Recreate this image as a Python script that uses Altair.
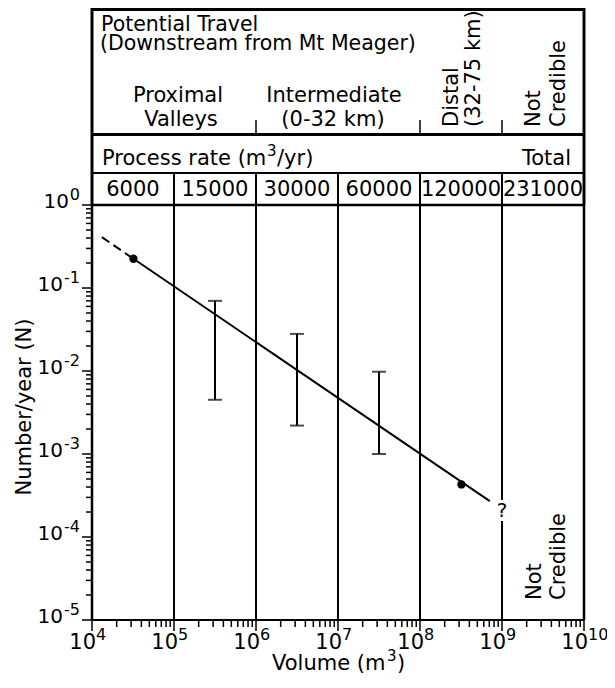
import altair as alt
import pandas as pd

FONT = "DejaVu Sans"

# ---------------- data ----------------
fit_solid_v = [3.2e4, 7.1e8]
fit_solid_n = [0.225, 2.7e-4]
fit_dash_v = [1.32e4, 3.2e4]
fit_dash_n = [0.41, 0.225]
point_v = [3.2e4, 3.2e8]
point_n = [0.225, 4.3e-4]
bar_v = [3.16e5, 3.16e6, 3.16e7]
bar_lo = [0.0045, 0.0022, 0.001]
bar_hi = [0.07, 0.028, 0.0098]
rate_labels = ["6000", "15000", "30000", "60000", "120000", "231000"]
rate_v = [3.16e4, 3.16e5, 3.16e6, 3.16e7, 3.16e8, 3.16e9]
x_exps = [4, 5, 6, 7, 8, 9, 10]
y_exps = [0, -1, -2, -3, -4, -5]
inner_bounds = [1e5, 1e6, 1e7, 1e8]
header_ticks = [1e6, 1e8, 1e9]

x_major = [10.0 ** k for k in x_exps]
x_minor = [m * 10.0 ** k for k in range(4, 10) for m in range(2, 10)]
y_major = [10.0 ** k for k in y_exps]
y_minor = [m * 10.0 ** k for k in range(-5, 0) for m in range(2, 10)]

xs = alt.Scale(type="log", domain=[1e4, 1e10])
ys = alt.Scale(type="log", domain=[1e-5, 1])

one = pd.DataFrame({"a": [0]})
L = 92   # plot left in page pixels
T = 205  # plot top in page pixels
H = 415  # plot height


def X(f="v"):
    return alt.X(f"{f}:Q", scale=xs, axis=None)


def Y(f="n"):
    return alt.Y(f"{f}:Q", scale=ys, axis=None)


def txt(s, px, py, size=21, align="left", angle=0, baseline="alphabetic"):
    # px, py: page pixel anchor of the annotation
    return alt.Chart(one).mark_text(
        text=s, font=FONT, fontSize=size, align=align, angle=angle,
        baseline=baseline, color="black"
    ).encode(x=alt.value(px - L), y=alt.value(py - T))


layers = []

# ---------- header texts ----------
layers += [
    txt("Potential Travel", 101, 31, size=20.5),
    txt("(Downstream from Mt Meager)", 100, 50, size=20.5),
    txt("Proximal", 178, 102, align="center"),
    txt("Valleys", 181, 126, align="center"),
    txt("Intermediate", 334, 102, align="center"),
    txt("(0-32 km)", 333, 126, align="center"),
    txt("Distal", 458, 127, angle=270),
    txt("(32-75 km)", 480, 127, angle=270),
    txt("Not", 540, 127, angle=270),
    txt("Credible", 565, 127, angle=270),
    txt("Process rate (m", 102, 165),
    txt("3", 267, 156, size=15),
    txt("/yr)", 277, 165),
    txt("Total", 571, 165, align="right"),
]

rates_df = pd.DataFrame({"v": rate_v, "t": rate_labels})
layers.append(
    alt.Chart(rates_df).mark_text(font=FONT, fontSize=21, align="center",
                                  baseline="alphabetic", color="black")
    .encode(x=X(), y=alt.value(196 - T), text="t:N")
)

# in-plot annotations
layers += [
    txt("Not", 541, 600, angle=270),
    txt("Credible", 565, 600, angle=270),
]
q_df = pd.DataFrame({"v": [1e9]})
layers.append(
    alt.Chart(q_df).mark_text(text="?", font=FONT, fontSize=20, align="center",
                              baseline="alphabetic", color="black")
    .encode(x=X(), y=alt.value(517 - T))
)

# axis titles
layers += [
    txt("Volume (m", 272, 670),
    txt("3", 387, 661, size=15),
    txt(")", 397, 670),
    txt("Number/year (N)", 31, 407, angle=270, align="center"),
]

# ---------- tick labels ----------
xl = pd.DataFrame({"v": x_major, "e": [str(e) for e in x_exps]})
layers.append(
    alt.Chart(xl).mark_text(text="10", font=FONT, fontSize=21, align="right", dx=4,
                            baseline="alphabetic", color="black")
    .encode(x=X(), y=alt.value(649 - T))
)
layers.append(
    alt.Chart(xl).mark_text(font=FONT, fontSize=16, align="left", dx=4,
                            baseline="alphabetic", color="black")
    .encode(x=X(), y=alt.value(640 - T), text="e:N")
)

yl0 = pd.DataFrame({"n": [y_major[i] for i, e in enumerate(y_exps) if e == 0],
                    "e": [str(e) for e in y_exps if e == 0]})
yln = pd.DataFrame({"n": [y_major[i] for i, e in enumerate(y_exps) if e < 0],
                    "e": [str(e) for e in y_exps if e < 0]})
for d, bx in ((yl0, 69), (yln, 63)):
    layers.append(
        alt.Chart(d).mark_text(text="10", font=FONT, fontSize=20, align="right", dy=3,
                               baseline="alphabetic", color="black")
        .encode(x=alt.value(bx - L), y=Y())
    )
    layers.append(
        alt.Chart(d).mark_text(font=FONT, fontSize=16, align="right", dy=-5,
                               baseline="alphabetic", color="black")
        .encode(x=alt.value(80 - L), y=Y(), text="e:N")
    )

# ---------- ticks ----------
layers.append(alt.Chart(pd.DataFrame({"v": x_minor})).mark_rule(color="black", strokeWidth=1.5)
              .encode(x=X(), y=alt.value(H), y2=alt.value(H + 7)))
layers.append(alt.Chart(pd.DataFrame({"v": x_major})).mark_rule(color="black", strokeWidth=1.5)
              .encode(x=X(), y=alt.value(H), y2=alt.value(H + 11)))
layers.append(alt.Chart(pd.DataFrame({"n": y_minor})).mark_rule(color="black", strokeWidth=1.5)
              .encode(y=Y(), x=alt.value(0), x2=alt.value(-6)))
layers.append(alt.Chart(pd.DataFrame({"n": y_major})).mark_rule(color="black", strokeWidth=1.5)
              .encode(y=Y(), x=alt.value(0), x2=alt.value(-10)))

# ---------- data marks ----------
dash_df = pd.DataFrame({"v": fit_dash_v, "n": fit_dash_n})
solid_df = pd.DataFrame({"v": fit_solid_v, "n": fit_solid_n})
layers.append(alt.Chart(dash_df).mark_line(color="black", strokeWidth=2, strokeDash=[9, 5])
              .encode(x=X(), y=Y()))
layers.append(alt.Chart(solid_df).mark_line(color="black", strokeWidth=2)
              .encode(x=X(), y=Y()))
bars_df = pd.DataFrame({"v": bar_v, "lo": bar_lo, "hi": bar_hi})
layers.append(alt.Chart(bars_df).mark_rule(color="black", strokeWidth=2)
              .encode(x=X(), y=Y("lo"), y2="hi:Q"))
for f in ("lo", "hi"):
    layers.append(alt.Chart(bars_df).mark_tick(color="black", orient="horizontal",
                                               size=14, thickness=2)
                  .encode(x=X(), y=Y(f)))
pts_df = pd.DataFrame({"v": point_v, "n": point_n})
layers.append(alt.Chart(pts_df).mark_circle(color="black", size=70, opacity=1)
              .encode(x=X(), y=Y()))

# ---------- frame / table lines ----------
span_df = pd.DataFrame({"v": [1e4], "v2": [1e10]})


def hline(py, w):
    return alt.Chart(span_df).mark_rule(color="black", strokeWidth=w).encode(
        x=X("v"), x2="v2:Q", y=alt.value(py - T))


layers += [hline(9.5, 3), hline(134.5, 3), hline(173, 2), hline(205, 2.5), hline(620, 2)]

edge_df = pd.DataFrame({"v": [1e4, 1e10]})
layers.append(alt.Chart(edge_df).mark_rule(color="black", strokeWidth=3)
              .encode(x=X(), y=alt.value(8 - T), y2=alt.value(0)))
layers.append(alt.Chart(edge_df).mark_rule(color="black", strokeWidth=2.5)
              .encode(x=X(), y=alt.value(0), y2=alt.value(H)))
inner_df = pd.DataFrame({"v": inner_bounds})
layers.append(alt.Chart(inner_df).mark_rule(color="black", strokeWidth=2)
              .encode(x=X(), y=alt.value(173 - T), y2=alt.value(H)))
nine_df = pd.DataFrame({"v": [1e9]})
layers.append(alt.Chart(nine_df).mark_rule(color="black", strokeWidth=2)
              .encode(x=X(), y=alt.value(173 - T), y2=alt.value(500 - T)))
layers.append(alt.Chart(nine_df).mark_rule(color="black", strokeWidth=2)
              .encode(x=X(), y=alt.value(521 - T), y2=alt.value(H)))
ht_df = pd.DataFrame({"v": header_ticks})
layers.append(alt.Chart(ht_df).mark_rule(color="black", strokeWidth=1.5)
              .encode(x=X(), y=alt.value(120 - T), y2=alt.value(134 - T)))

chart = alt.layer(*layers).properties(
    width=492, height=H,
    autosize=alt.AutoSizeParams(type="none"),
    padding={"left": L - 8, "top": T - 8, "right": 23, "bottom": 54},
).configure_view(stroke=None)

chart.save("out.html", embed_options={"renderer": "svg", "actions": False})
